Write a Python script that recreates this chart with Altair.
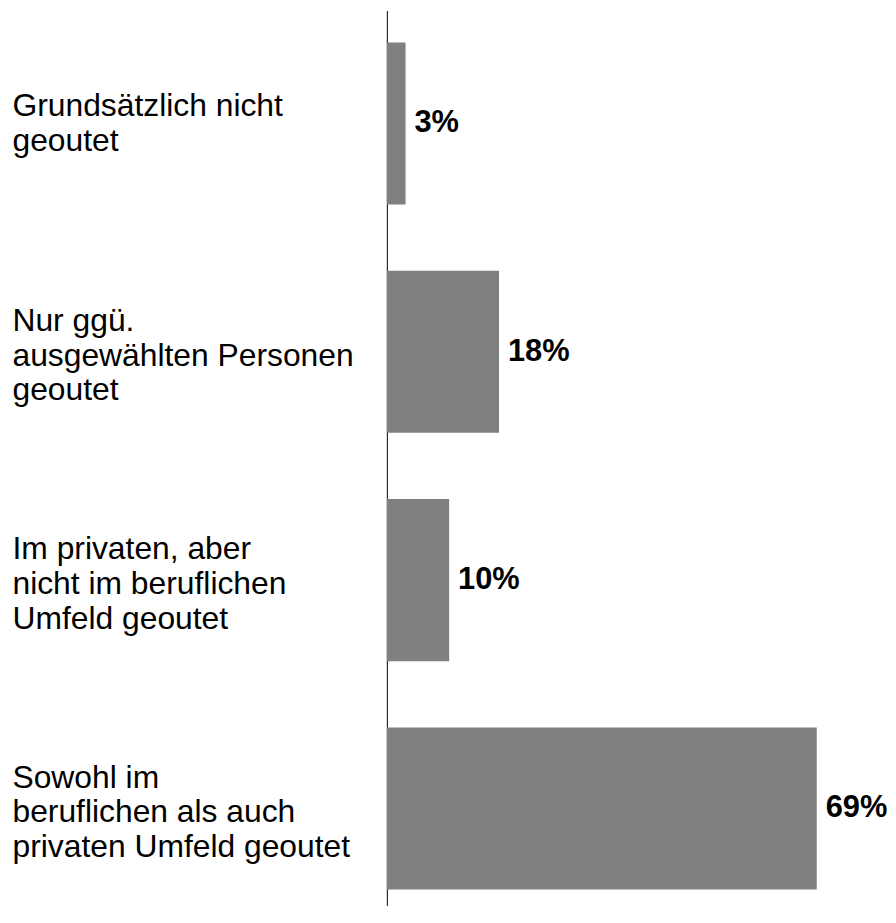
import altair as alt
import pandas as pd

categories = [
    "Grundsätzlich nicht|geoutet",
    "Nur ggü.|ausgewählten Personen|geoutet",
    "Im privaten, aber|nicht im beruflichen|Umfeld geoutet",
    "Sowohl im|beruflichen als auch|privaten Umfeld geoutet",
]
values = [3, 18, 10, 69]
value_labels = ["3%", "18%", "10%", "69%"]

df = pd.DataFrame({"cat": categories, "val": values, "lbl": value_labels})

FONT = "Liberation Sans"
LINE_H = 35

y_enc = alt.Y(
    "cat:N",
    sort=None,
    title=None,
    scale=alt.Scale(paddingInner=0.2903, paddingOuter=0.1045, align=0.667),
    axis=alt.Axis(
        labelExpr="split(datum.label, '|')",
        labelAlign="left",
        labelBaseline="middle",
        labelPadding=377,
        labelFontSize=32,
        labelFont=FONT,
        labelColor="#000000",
        labelLineHeight=LINE_H,
        labelLimit=600,
        labelOffset={
            "condition": {"test": "length(split(datum.value, '|')) == 3", "value": -31},
            "value": -17.5,
        },
        ticks=False,
        domain=True,
        domainColor="#000000",
        domainWidth=1,
        grid=False,
    ),
)
x_enc = alt.X("val:Q", scale=alt.Scale(domain=[0, 79], nice=False, zero=True), axis=None)

bars = alt.Chart(df).mark_bar(color="#808080").encode(x=x_enc, y=y_enc)
texts = alt.Chart(df).mark_text(
    align="left", baseline="middle", dx=9, fontSize=31, fontWeight="bold", font=FONT, color="#000000"
).encode(x=x_enc, y=y_enc, text="lbl:N")

chart = (
    alt.layer(bars, texts)
    .properties(width=495, height=900, padding={"left": 4, "top": 0, "right": 0, "bottom": 0}, background="#ffffff")
    .configure_view(stroke=None)
)

chart.save("out.html", embed_options={"renderer": "svg", "actions": False})
